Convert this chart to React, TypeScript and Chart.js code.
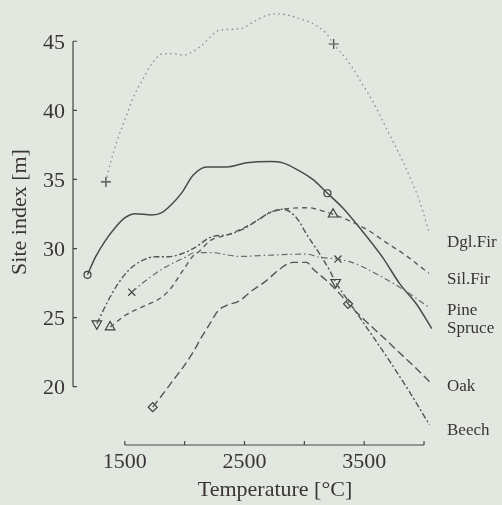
import React, { useEffect, useRef } from "react";
import { Chart, registerables } from "chart.js";

Chart.register(...registerables);

// ---- Data (temperature sum [°C] vs site index [m]) ----
const dglFirT = [1342, 1377, 1433, 1517, 1569, 1653, 1736, 1820, 1903, 1987, 2128, 2295, 2461, 2573, 2684, 2768, 2851, 2962, 3073, 3185, 3245, 3323, 3406, 3490, 3573, 3657, 3740, 3823, 3907, 3963, 4046];
const dglFirV = [34.82, 36.1, 37.75, 39.7, 40.9, 42.3, 43.5, 44.1, 44.1, 44.0, 44.6, 45.8, 45.9, 46.39, 46.87, 46.99, 46.91, 46.63, 46.27, 45.55, 44.8, 44.0, 43.03, 41.83, 40.63, 39.19, 37.75, 36.31, 34.64, 33.44, 31.04];
const dglFirMarkT = [1342, 3245];
const dglFirMarkV = [34.82, 44.8];

const silFirT = [1377, 1503, 1642, 1809, 1892, 1947, 2003, 2059, 2128, 2211, 2378, 2601, 2712, 2879, 3045, 3101, 3240, 3379, 3518, 3685, 3852, 4040];
const silFirV = [24.32, 25.16, 25.76, 26.48, 27.2, 27.92, 28.64, 29.36, 29.84, 30.56, 31.04, 32.0, 32.6, 32.9, 32.95, 32.84, 32.48, 32.0, 31.4, 30.43, 29.48, 28.2];
const silFirMarkT = [1377, 3240];
const silFirMarkV = [24.32, 32.48];

const pineT = [1558, 1642, 1753, 1861, 2003, 2086, 2211, 2462, 2737, 3018, 3129, 3281, 3435, 3602, 3796, 4040];
const pineV = [26.84, 27.46, 28.18, 28.76, 29.36, 29.71, 29.71, 29.43, 29.53, 29.6, 29.36, 29.24, 28.88, 28.16, 27.2, 25.76];
const pineMarkT = [1558, 3281];
const pineMarkV = [26.84, 29.24];

const spruceT = [1188, 1253, 1336, 1419, 1502, 1586, 1725, 1809, 1892, 1975, 2070, 2184, 2351, 2517, 2712, 2820, 2962, 3070, 3193, 3320, 3462, 3654, 3796, 3935, 4065];
const spruceV = [28.1, 29.36, 30.56, 31.51, 32.23, 32.52, 32.43, 32.6, 33.2, 34.03, 35.3, 35.9, 35.9, 36.2, 36.3, 36.2, 35.6, 35.0, 34.0, 32.95, 31.5, 29.36, 27.46, 26.0, 24.2];
const spruceMarkT = [1188, 3193];
const spruceMarkV = [28.1, 34.0];

const oakT = [1733, 1822, 1905, 1989, 2072, 2142, 2211, 2281, 2351, 2462, 2545, 2684, 2795, 2906, 3018, 3073, 3185, 3296, 3365, 3500, 3650, 3800, 3950, 4046];
const oakV = [18.52, 19.52, 20.48, 21.44, 22.52, 23.6, 24.56, 25.52, 25.88, 26.24, 26.84, 27.68, 28.52, 29.0, 29.0, 28.52, 27.68, 26.72, 26.0, 24.85, 23.65, 22.42, 21.2, 20.36];
const oakMarkT = [1733, 3365];
const oakMarkV = [18.52, 26.0];

const beechT = [1266, 1361, 1444, 1528, 1642, 1753, 1861, 1975, 2086, 2211, 2378, 2487, 2601, 2712, 2820, 2934, 3018, 3045, 3129, 3212, 3262, 3379, 3546, 3713, 3879, 4046];
const beechV = [24.56, 26.24, 27.46, 28.4, 29.12, 29.4, 29.4, 29.62, 30.07, 30.8, 31.04, 31.4, 32.0, 32.6, 32.84, 32.23, 31.04, 30.68, 29.6, 28.4, 27.56, 26.06, 23.97, 21.85, 19.62, 17.24];
const beechMarkT = [1266, 3262];
const beechMarkV = [24.56, 27.56];

const yTicks = [20, 25, 30, 35, 40, 45];
const xTicks = [1500, 2000, 2500, 3000, 3500, 4000];
const xTickLabels = [1500, 2500, 3500];
const seriesLabels = ["Dgl.Fir", "Sil.Fir", "Pine", "Spruce", "Oak", "Beech"];

// ---- Layout / style (not data) ----
const W = 502;
const H = 505;
const BG = "#e2e8df";
const INK = "#3a3338";
const AXIS_X_PX = 73;
const AXIS_Y_PX = 445;
const LABEL_X_PX = 447;
const LABEL_BASELINES_PX = [246.7, 284, 315, 333.3, 390.7, 435];
const SERIF = '"Liberation Serif", "Times New Roman", serif';

const pts = (t: number[], v: number[]) => t.map((x, i) => ({ x, y: v[i] }));

const decorPlugin = {
  id: "decor",
  beforeDraw(chart: any) {
    const ctx = chart.ctx;
    ctx.save();
    ctx.fillStyle = BG;
    ctx.fillRect(0, 0, chart.width, chart.height);
    ctx.restore();
  },
  afterDraw(chart: any) {
    const ctx = chart.ctx;
    const xs = chart.scales.x;
    const ys = chart.scales.y;
    ctx.save();
    ctx.strokeStyle = "#454545";
    ctx.lineWidth = 1.2;
    ctx.fillStyle = INK;

    // y axis
    const yTop = ys.getPixelForValue(yTicks[yTicks.length - 1]);
    const yBot = ys.getPixelForValue(yTicks[0]);
    ctx.beginPath();
    ctx.moveTo(AXIS_X_PX, yTop);
    ctx.lineTo(AXIS_X_PX, yBot);
    yTicks.forEach((t) => {
      const py = ys.getPixelForValue(t);
      ctx.moveTo(AXIS_X_PX, py);
      ctx.lineTo(AXIS_X_PX + 4, py);
    });
    ctx.stroke();
    ctx.font = `22px ${SERIF}`;
    ctx.textAlign = "right";
    ctx.textBaseline = "alphabetic";
    yTicks.forEach((t) => {
      const py = ys.getPixelForValue(t);
      ctx.fillText(String(t), AXIS_X_PX - 8, py + 7.5);
    });

    // x axis
    const xL = xs.getPixelForValue(xTicks[0]);
    const xR = xs.getPixelForValue(xTicks[xTicks.length - 1]);
    ctx.beginPath();
    ctx.moveTo(xL, AXIS_Y_PX);
    ctx.lineTo(xR, AXIS_Y_PX);
    xTicks.forEach((t) => {
      const px = xs.getPixelForValue(t);
      ctx.moveTo(px, AXIS_Y_PX);
      ctx.lineTo(px, AXIS_Y_PX - 4);
    });
    ctx.stroke();
    ctx.textAlign = "center";
    xTickLabels.forEach((t) => {
      const px = xs.getPixelForValue(t);
      ctx.fillText(String(t), px, 468);
    });

    // axis titles
    ctx.fillText("Temperature [°C]", 275, 496);
    ctx.save();
    ctx.translate(26, 212);
    ctx.rotate(-Math.PI / 2);
    ctx.textAlign = "center";
    ctx.fillText("Site index [m]", 0, 0);
    ctx.restore();

    // series labels at right
    ctx.font = `17px ${SERIF}`;
    ctx.textAlign = "left";
    seriesLabels.forEach((s, i) => {
      ctx.fillText(s, LABEL_X_PX, LABEL_BASELINES_PX[i]);
    });
    ctx.restore();
  },
};

export default function App() {
  const ref = useRef<HTMLCanvasElement | null>(null);

  useEffect(() => {
    document.body.style.margin = "0";
    document.body.style.background = BG;
    const canvas = ref.current;
    if (!canvas) return;

    const lineDs = (label: string, t: number[], v: number[], color: string, dash: number[], width: number) => ({
      label,
      data: pts(t, v),
      borderColor: color,
      borderWidth: width,
      borderDash: dash,
      borderCapStyle: "butt",
      pointRadius: 0,
      fill: false,
      cubicInterpolationMode: "monotone",
    });
    const markDs = (label: string, t: number[], v: number[], style: string, rotation: number, radius: number) => ({
      label,
      data: pts(t, v),
      showLine: false,
      pointStyle: style,
      pointRotation: rotation,
      pointRadius: radius,
      pointBorderColor: "#3c3c3c",
      pointBackgroundColor: "rgba(0,0,0,0)",
      pointBorderWidth: 1.2,
      borderColor: "#3c3c3c",
    });

    const chart = new Chart(canvas, {
      type: "line",
      data: {
        datasets: [
          lineDs("Dgl.Fir", dglFirT, dglFirV, "#8a8a8a", [1.5, 3.5], 1.3),
          lineDs("Sil.Fir", silFirT, silFirV, "#5a5a5a", [5, 4], 1.4),
          lineDs("Pine", pineT, pineV, "#6a6a6a", [6, 3, 1.5, 3], 1.2),
          lineDs("Spruce", spruceT, spruceV, "#4a4a4a", [], 1.5),
          lineDs("Oak", oakT, oakV, "#555555", [8, 4], 1.4),
          lineDs("Beech", beechT, beechV, "#555555", [6, 2.5, 2, 2.5], 1.4),
          markDs("Dgl.Fir m", dglFirMarkT, dglFirMarkV, "cross", 0, 5),
          markDs("Sil.Fir m", silFirMarkT, silFirMarkV, "triangle", 0, 5.5),
          markDs("Pine m", pineMarkT, pineMarkV, "crossRot", 0, 5),
          markDs("Spruce m", spruceMarkT, spruceMarkV, "circle", 0, 3.5),
          markDs("Oak m", oakMarkT, oakMarkV, "rectRot", 0, 4.5),
          markDs("Beech m", beechMarkT, beechMarkV, "triangle", 180, 5.5),
        ] as any,
      },
      options: {
        responsive: false,
        maintainAspectRatio: false,
        animation: false,
        layout: { padding: { left: 65, right: 66, top: 5, bottom: 63 } },
        scales: {
          x: { type: "linear", min: 1000, max: 4100, display: false },
          y: { type: "linear", min: 16, max: 47.5, display: false },
        },
        plugins: {
          legend: { display: false },
          tooltip: { enabled: false },
        },
      } as any,
      plugins: [decorPlugin as any],
    });
    return () => chart.destroy();
  }, []);

  return <canvas ref={ref} width={W} height={H} style={{ display: "block", width: W, height: H }} />;
}
